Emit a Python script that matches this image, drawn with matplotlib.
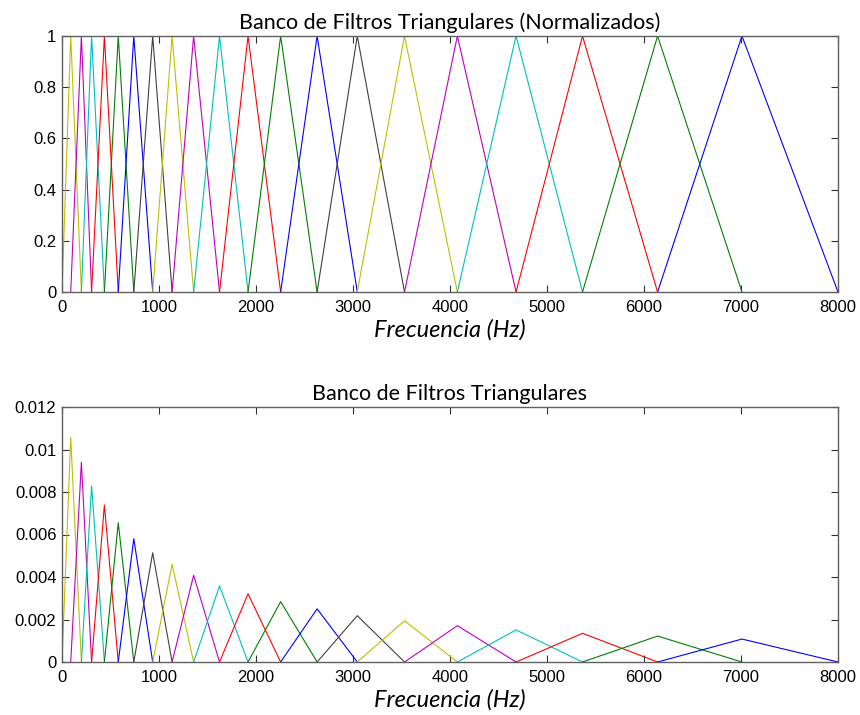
import matplotlib
matplotlib.use("Agg")
import matplotlib.pyplot as plt

# Frecuencias centrales de los filtros (Hz)
centros = [90, 200, 305, 437, 580, 740, 935, 1135, 1357, 1624,
           1918, 2254, 2630, 3044, 3531, 4076, 4681, 5366, 6140, 7010]
f_min = 0
f_max = 8000

# Altura de cada filtro en el banco sin normalizar
alturas = [0.01057, 0.0094, 0.00829, 0.00739, 0.00655, 0.0058, 0.00514,
           0.0046, 0.00408, 0.00358, 0.00321, 0.00284, 0.0025, 0.00218,
           0.00194, 0.00171, 0.00151, 0.00135, 0.00122, 0.00108]

colores = ["#bfbf00", "#bf00bf", "#00bfbf", "#ff0000", "#008000", "#0000ff", "#404040"]

xticks = list(range(0, 8001, 1000))
yticks_norm = [0, 0.2, 0.4, 0.6, 0.8, 1]
ytick_norm_labels = ["0", "0.2", "0.4", "0.6", "0.8", "1"]
yticks_abs = [0, 0.002, 0.004, 0.006, 0.008, 0.01, 0.012]
ytick_abs_labels = ["0", "0.002", "0.004", "0.006", "0.008", "0.01", "0.012"]

bordes = [f_min] + centros + [f_max]

fig = plt.figure(figsize=(8.6, 7.15), dpi=100)
ax1 = fig.add_axes([62 / 860, 1 - 292 / 715, 776 / 860, 256 / 715])
ax2 = fig.add_axes([62 / 860, 1 - 662 / 715, 776 / 860, 255 / 715])

for i in range(len(centros)):
    xs = [bordes[i], bordes[i + 1], bordes[i + 2]]
    c = colores[i % len(colores)]
    ax1.plot(xs, [0, 1, 0], color=c, linewidth=0.8)
    ax2.plot(xs, [0, alturas[i], 0], color=c, linewidth=0.8)

def estilo(ax, titulo, yt, ytl, ylim):
    ax.set_xlim(0, 8000)
    ax.set_ylim(*ylim)
    ax.set_xticks(xticks)
    ax.set_xticklabels([str(t) for t in xticks], fontfamily="Liberation Sans", fontsize=12)
    ax.set_yticks(yt)
    ax.set_yticklabels(ytl, fontfamily="Liberation Sans", fontsize=12)
    ax.tick_params(direction="in", top=True, right=True, length=5, width=0.8,
                   color="#303030")
    ax.tick_params(axis="x", pad=6)
    ax.tick_params(axis="y", pad=4)
    for s in ax.spines.values():
        s.set_color("#606060")
        s.set_linewidth(1.0)
    ax.set_title(titulo, fontfamily="Lato", fontsize=15.5, pad=5)
    ax.set_xlabel("Frecuencia (Hz)", fontfamily="Lato", fontstyle="italic",
                  fontsize=17, labelpad=3)

estilo(ax1, "Banco de Filtros Triangulares (Normalizados)", yticks_norm,
       ytick_norm_labels, (0, 1))
estilo(ax2, "Banco de Filtros Triangulares", yticks_abs, ytick_abs_labels, (0, 0.012))

plt.savefig("out.png", dpi=100)
